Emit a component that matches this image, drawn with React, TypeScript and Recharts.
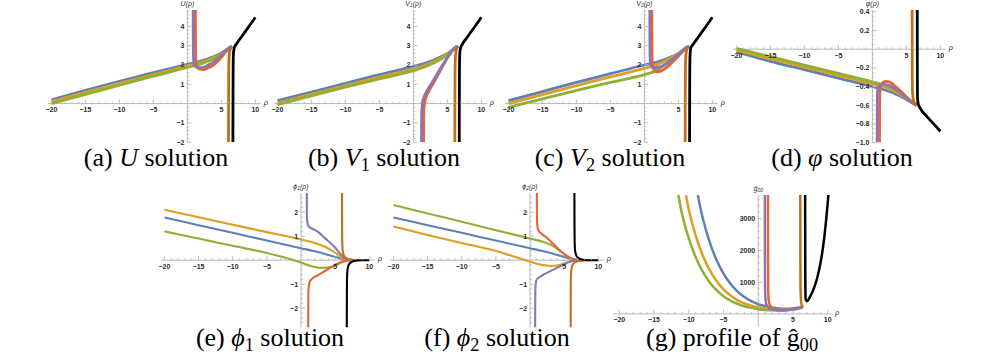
import React from 'react';
import { LineChart, Line, XAxis, YAxis, ReferenceLine, ReferenceDot } from 'recharts';

type P = [number, number];

const COL = {
  blue: '#5E81B5', orange: '#E19C24', green: '#8FB032', red: '#EB6235',
  purple: '#8778B3', brown: '#C56E1A', black: '#000000',
};

// ---------- (a) U ----------
const aBlue: P[] = [[-20,0.2],[-15,0.68],[-10,1.15],[-5,1.6],[0,2.03],[2,2.2],[4,2.45],[5,2.62],[6,2.85],[6.5,2.97]];
const aOrange: P[] = [[-20,0.1],[-15,0.58],[-10,1.05],[-5,1.5],[0,1.95],[2,2.13],[4,2.4],[5,2.58],[6,2.83],[6.5,2.96]];
const aGreen: P[] = [[-20,0.0],[-15,0.48],[-10,0.95],[-5,1.42],[0,1.87],[2,2.06],[4,2.35],[5,2.55],[6,2.8],[6.5,2.95]];
const aRed: P[] = [[1.18,4.85],[1.19,3.5],[1.21,2.6],[1.28,2.15],[1.45,1.9],[1.8,1.78],[2.3,1.76],[3,1.84],[4,2.05],[5,2.4],[5.8,2.75],[6.5,2.97]];
const aPurple: P[] = [[0.85,4.85],[0.86,3.5],[0.88,2.6],[0.95,2.15],[1.1,1.97],[1.5,1.87],[2,1.86],[3,1.98],[4,2.2],[5,2.52],[5.8,2.8],[6.5,2.97]];
const aBrown: P[] = [[6.05,-2],[6.06,0],[6.08,1.5],[6.12,2.3],[6.2,2.65],[6.35,2.85],[6.6,2.98]];
const aBlack: P[] = [[6.7,-2],[6.71,0],[6.73,1.8],[6.78,2.6],[6.9,2.9],[7.2,3.08],[8,3.48],[9,3.97],[10,4.47]];

// ---------- (b) V1 ----------
const bBlue: P[] = [[-20,0.15],[-15,0.6],[-10,1.05],[-5,1.5],[0,1.93],[2,2.12],[4,2.42],[5,2.6],[6,2.85],[6.5,2.97]];
const bOrange: P[] = [[-20,0.03],[-15,0.48],[-10,0.93],[-5,1.37],[0,1.8],[2,2.02],[4,2.35],[5,2.56],[6,2.83],[6.5,2.96]];
const bGreen: P[] = [[-20,-0.05],[-15,0.4],[-10,0.85],[-5,1.28],[0,1.7],[2,1.95],[4,2.3],[5,2.53],[6,2.82],[6.5,2.95]];
const bRed: P[] = [[1.5,-2],[1.51,-0.8],[1.55,-0.3],[1.7,0.12],[2.15,0.55],[2.8,0.97],[3.55,1.45],[4.3,1.93],[4.95,2.33],[5.55,2.65],[6.1,2.9],[6.5,2.97]];
const bPurple: P[] = [[1.2,-2],[1.21,-0.8],[1.25,-0.3],[1.4,0.15],[1.9,0.6],[2.6,1.0],[3.4,1.48],[4.2,1.95],[4.9,2.34],[5.5,2.65],[6.1,2.9],[6.5,2.97]];
const bBrown: P[] = [[6.1,-2],[6.11,0],[6.13,1.5],[6.17,2.3],[6.25,2.65],[6.4,2.86],[6.6,2.98]];
const bBlack: P[] = [[6.75,-2],[6.76,0],[6.78,1.8],[6.83,2.6],[6.95,2.9],[7.2,3.07],[8,3.48],[9,3.97],[10,4.47]];

// ---------- (c) V2 ----------
const cBlue: P[] = [[-20,0.15],[-15,0.62],[-10,1.1],[-5,1.55],[0,2.0],[2,2.17],[4,2.43],[5,2.6],[6,2.85],[6.5,2.97]];
const cOrange: P[] = [[-20,0.0],[-15,0.47],[-10,0.93],[-5,1.38],[0,1.82],[1.5,1.97],[3,2.2],[4,2.38],[5,2.58],[6,2.84],[6.5,2.96]];
const cGreen: P[] = [[-20,-0.2],[-15,0.25],[-10,0.68],[-5,1.1],[0,1.5],[1.5,1.67],[3,2.0],[4,2.27],[5,2.53],[6,2.82],[6.5,2.95]];
const cRed: P[] = [[1.1,4.85],[1.11,3.5],[1.13,2.5],[1.2,2.0],[1.4,1.75],[1.8,1.65],[2.4,1.68],[3.2,1.85],[4,2.1],[5,2.45],[5.8,2.77],[6.5,2.97]];
const cPurple: P[] = [[0.8,4.85],[0.81,3.5],[0.83,2.5],[0.9,2.05],[1.1,1.9],[1.6,1.86],[2.3,1.9],[3.2,2.05],[4,2.25],[5,2.55],[5.8,2.82],[6.5,2.97]];
const cBrown: P[] = [[6.0,-2],[6.01,0],[6.03,1.5],[6.07,2.3],[6.15,2.65],[6.3,2.86],[6.6,2.98]];
const cBlack: P[] = [[6.65,-2],[6.66,0],[6.68,1.8],[6.73,2.6],[6.85,2.9],[7.2,3.08],[8,3.48],[9,3.97],[10,4.47]];

// ---------- (d) varphi ----------
const dBlue: P[] = [[-20,-0.03],[-15,-0.13],[-10,-0.22],[-5,-0.31],[0,-0.4],[2,-0.44],[4,-0.5],[5,-0.54],[6,-0.58],[6.5,-0.6]];
const dOrange: P[] = [[-20,-0.01],[-15,-0.1],[-10,-0.19],[-5,-0.28],[0,-0.37],[2,-0.41],[4,-0.48],[5,-0.53],[6,-0.58],[6.5,-0.6]];
const dGreen: P[] = [[-20,0.01],[-15,-0.08],[-10,-0.17],[-5,-0.26],[0,-0.35],[2,-0.39],[4,-0.46],[5,-0.51],[6,-0.57],[6.5,-0.6]];
const dRed: P[] = [[1.05,-1.0],[1.06,-0.7],[1.08,-0.5],[1.15,-0.42],[1.4,-0.37],[1.9,-0.345],[2.6,-0.355],[3.4,-0.4],[4.3,-0.46],[5.2,-0.53],[6,-0.58],[6.5,-0.6]];
const dPurple: P[] = [[0.7,-1.0],[0.71,-0.7],[0.73,-0.5],[0.8,-0.42],[1.1,-0.39],[1.7,-0.375],[2.5,-0.39],[3.4,-0.43],[4.3,-0.48],[5.2,-0.54],[6,-0.58],[6.5,-0.6]];
const dBrown: P[] = [[5.85,0.42],[5.86,0],[5.87,-0.3],[5.9,-0.45],[6.0,-0.53],[6.2,-0.58],[6.5,-0.6]];
const dBlack: P[] = [[6.6,0.42],[6.61,0],[6.62,-0.4],[6.65,-0.53],[6.75,-0.59],[7,-0.63],[8,-0.72],[9,-0.8],[10,-0.88]];

// ---------- (e) phi1 ----------
const eBlue: P[] = [[-20,1.78],[-15,1.46],[-10,1.14],[-5,0.82],[0,0.5],[2,0.37],[4,0.22],[5.2,0.12],[6.2,0.04],[7.5,0.0]];
const eOrange: P[] = [[-20,2.1],[-15,1.79],[-10,1.48],[-5,1.17],[0,0.86],[2,0.72],[3.5,0.56],[4.8,0.35],[5.8,0.15],[6.5,0.05],[7.5,0.01]];
const eGreen: P[] = [[-20,1.2],[-15,0.9],[-10,0.6],[-5,0.3],[-2,0.08],[0,-0.1],[1.5,-0.25],[3,-0.32],[4.3,-0.28],[5.3,-0.18],[6.2,-0.06],[7,0]];
const eRed: P[] = [[1.05,-2.8],[1.06,-1.8],[1.1,-1.2],[1.25,-0.92],[1.6,-0.78],[2.5,-0.62],[3.5,-0.45],[4.5,-0.28],[5.5,-0.12],[6.5,-0.02],[7.5,0]];
const ePurple: P[] = [[0.85,2.8],[0.86,2.0],[0.9,1.62],[1.1,1.42],[1.6,1.32],[2.4,1.2],[3.5,0.92],[4.9,0.55],[5.8,0.25],[6.5,0.07],[7.5,0.01]];
const eBrown: P[] = [[6.0,2.8],[6.01,1.5],[6.03,0.8],[6.1,0.4],[6.3,0.18],[6.7,0.07],[7.5,0.02],[8.5,0]];
const eBlack: P[] = [[6.7,-2.8],[6.71,-1.5],[6.73,-0.8],[6.8,-0.4],[7,-0.18],[7.4,-0.07],[8.2,-0.01],[9,0],[10,0]];

// ---------- (f) phi2 ----------
const fBlue: P[] = [[-20,1.78],[-15,1.46],[-10,1.14],[-5,0.82],[0,0.5],[2,0.37],[4,0.22],[5.2,0.12],[6.2,0.04],[7.5,0]];
const fOrange: P[] = [[-20,1.4],[-15,1.05],[-10,0.72],[-5,0.38],[-2,0.12],[0,-0.06],[1.5,-0.18],[3,-0.24],[4.3,-0.2],[5.3,-0.1],[6.3,-0.03],[7.5,0]];
const fGreen: P[] = [[-20,2.3],[-15,1.95],[-10,1.6],[-5,1.25],[0,0.9],[2,0.76],[3.2,0.62],[4.3,0.4],[5.3,0.2],[6.3,0.05],[7.5,0]];
const fRed: P[] = [[1.0,2.8],[1.01,2.0],[1.05,1.5],[1.2,1.25],[1.6,1.12],[2.4,0.95],[3.5,0.65],[4.5,0.38],[5.5,0.15],[6.3,0.04],[7.5,0]];
const fPurple: P[] = [[0.75,-2.8],[0.76,-1.8],[0.8,-1.1],[0.95,-0.82],[1.4,-0.7],[2.2,-0.57],[3.5,-0.38],[4.8,-0.2],[5.8,-0.07],[6.5,-0.01],[7.5,0]];
const fBrown: P[] = [[5.95,-2.8],[5.96,-1.5],[5.98,-0.8],[6.05,-0.4],[6.25,-0.18],[6.7,-0.07],[7.5,-0.02],[8.5,0]];
const fBlack: P[] = [[6.5,2.8],[6.51,1.5],[6.53,0.8],[6.6,0.4],[6.8,0.18],[7.2,0.07],[8,0.01],[9,0],[10,0]];

// ---------- (g) g00 ----------
const gBlue: P[] = [[-8.7,3750],[-8,3030],[-7,2270],[-6,1700],[-5,1270],[-4,950],[-3,710],[-2,530],[-1,400],[0,310],[1,250],[2,200],[3,170],[4,160],[5,170],[6,200],[6.4,215]];
const gOrange: P[] = [[-10.4,3750],[-10,3300],[-9,2470],[-8,1850],[-7,1390],[-6,1040],[-5,775],[-4,580],[-3,435],[-2,330],[-1,260],[0,210],[1,170],[2,145],[3,135],[4,135],[5,150],[6,190],[6.4,215]];
const gGreen: P[] = [[-11.5,3750],[-11,3190],[-10,2390],[-9,1790],[-8,1340],[-7,1000],[-6,750],[-5,560],[-4,420],[-3,320],[-2,240],[-1,190],[0,150],[1,125],[2,115],[3,110],[4,115],[5,135],[6,180],[6.4,215]];
const gRed: P[] = [[1.4,3750],[1.41,2000],[1.43,900],[1.5,450],[1.7,260],[2.2,170],[3,130],[4,125],[5,150],[5.8,190],[6.4,215]];
const gPurple: P[] = [[0.95,3750],[0.96,2000],[0.98,900],[1.05,450],[1.25,260],[1.8,160],[2.7,115],[3.7,110],[4.7,135],[5.6,180],[6.4,215]];
const gBrown: P[] = [[6.05,3750],[6.06,2000],[6.08,900],[6.15,450],[6.3,250],[6.5,215]];
const gBlack: P[] = [[6.75,3750],[6.76,2000],[6.78,900],[6.83,450],[7,400],[7.5,560],[8,800],[8.5,1150],[9,1650],[9.5,2400],[10,3500],[10.1,3750]];

// ---------- ticks ----------
const xMajor = [-20, -15, -10, -5, 5, 10];
const xMinor = [-19,-18,-17,-16,-14,-13,-12,-11,-9,-8,-7,-6,-4,-3,-2,-1,1,2,3,4,6,7,8,9];
const uvTicks = [-2, -1, 1, 2, 3, 4];
const uvMinor = [-1.8,-1.6,-1.4,-1.2,-0.8,-0.6,-0.4,-0.2,0.2,0.4,0.6,0.8,1.2,1.4,1.6,1.8,2.2,2.4,2.6,2.8,3.2,3.4,3.6,3.8,4.2,4.4,4.6,4.8];
const dTicks = [0.4, 0.2, -0.2, -0.4, -0.6, -0.8, -1.0];
const dTickLabels = ['0.4', '0.2', '−0.2', '−0.4', '−0.6', '−0.8', '−1.0'];
const dMinor = [0.35,0.3,0.25,0.15,0.1,0.05,-0.05,-0.1,-0.15,-0.25,-0.3,-0.35,-0.45,-0.5,-0.55,-0.65,-0.7,-0.75,-0.85,-0.9,-0.95];
const phiTicks = [-2, -1, 1, 2];
const phiMinor = [-2.6,-2.4,-2.2,-1.8,-1.6,-1.4,-1.2,-0.8,-0.6,-0.4,-0.2,0.2,0.4,0.6,0.8,1.2,1.4,1.6,1.8,2.2,2.4,2.6];
const gTicks = [1000, 2000, 3000];
const gMinor = [200,400,600,800,1200,1400,1600,1800,2200,2400,2600,2800,3200,3400,3600];

const fmt = (v: number) => (v < 0 ? '−' + String(-v) : String(v));

type Series = { data: P[]; color: string };
type Cfg = {
  px: number; py: number; pw: number; ph: number;
  xD: [number, number]; yD: [number, number];
  series: Series[]; sw: number;
  yTicks: number[]; yLabels: string[]; yMinor: number[];
  yLabel: React.ReactNode;
};

const M = { top: 14, right: 18, bottom: 8, left: 20 };
const AX = '#b8b8b8';
const TF = { fontFamily: '"Liberation Sans", Arial, sans-serif', fontSize: 7, fontWeight: 700, fill: '#2b2b2b' };
const SERIF = "'Liberation Serif', 'Times New Roman', Times, 'DejaVu Serif', serif";

const seven = (b: P[], o: P[], g: P[], r: P[], p: P[], br: P[], k: P[]): Series[] => [
  { data: b, color: COL.blue }, { data: o, color: COL.orange }, { data: g, color: COL.green },
  { data: r, color: COL.red }, { data: p, color: COL.purple }, { data: br, color: COL.brown },
  { data: k, color: COL.black },
];

const sub = (base: string, s: string, tail: string) => (
  <>
    <tspan>{base}</tspan>
    <tspan fontSize={5} dy={1.5}>{s}</tspan>
    <tspan dy={-1.5}>{tail}</tspan>
  </>
);

const panels: Cfg[] = [
  { px: 47.6, py: 9.9, pw: 212.8, ph: 132.2, xD: [-20.5, 10.8], yD: [-2, 4.85], sw: 2.8,
    series: seven(aBlue, aOrange, aGreen, aRed, aPurple, aBrown, aBlack),
    yTicks: uvTicks, yLabels: uvTicks.map(fmt), yMinor: uvMinor, yLabel: <tspan>U(ρ)</tspan> },
  { px: 274.1, py: 9.9, pw: 212.8, ph: 132.2, xD: [-20.5, 10.8], yD: [-2, 4.85], sw: 2.8,
    series: seven(bBlue, bOrange, bGreen, bRed, bPurple, bBrown, bBlack),
    yTicks: uvTicks, yLabels: uvTicks.map(fmt), yMinor: uvMinor, yLabel: sub('V', '1', '(ρ)') },
  { px: 504.6, py: 9.9, pw: 212.8, ph: 132.2, xD: [-20.5, 10.8], yD: [-2, 4.85], sw: 2.8,
    series: seven(cBlue, cOrange, cGreen, cRed, cPurple, cBrown, cBlack),
    yTicks: uvTicks, yLabels: uvTicks.map(fmt), yMinor: uvMinor, yLabel: sub('V', '2', '(ρ)') },
  { px: 732.6, py: 10.1, pw: 212.8, ph: 132.5, xD: [-20.5, 10.8], yD: [-1.0, 0.42], sw: 2.8,
    series: seven(dBlue, dOrange, dGreen, dRed, dPurple, dBrown, dBlack),
    yTicks: dTicks, yLabels: dTickLabels, yMinor: dMinor, yLabel: <tspan>φ(ρ)</tspan> },
  { px: 161, py: 192.8, pw: 213.8, ph: 134.4, xD: [-20.5, 10.8], yD: [-2.8, 2.8], sw: 2.1,
    series: seven(eBlue, eOrange, eGreen, eRed, ePurple, eBrown, eBlack),
    yTicks: phiTicks, yLabels: phiTicks.map(fmt), yMinor: phiMinor, yLabel: sub('ϕ', '1', '(ρ)') },
  { px: 390, py: 192.8, pw: 213.8, ph: 134.4, xD: [-20.5, 10.8], yD: [-2.8, 2.8], sw: 2.1,
    series: seven(fBlue, fOrange, fGreen, fRed, fPurple, fBrown, fBlack),
    yTicks: phiTicks, yLabels: phiTicks.map(fmt), yMinor: phiMinor, yLabel: sub('ϕ', '2', '(ρ)') },
  { px: 612.7, py: 195.1, pw: 218.9, ph: 131.6, xD: [-20.9, 10.6], yD: [-400, 3750], sw: 2.5,
    series: seven(gBlue, gOrange, gGreen, gRed, gPurple, gBrown, gBlack),
    yTicks: gTicks, yLabels: gTicks.map(String), yMinor: gMinor, yLabel: sub('ĝ', '00', '') },
];

const toXY = (arr: P[]) => arr.map(([x, y]) => ({ x, y }));

function Panel({ cfg }: { cfg: Cfg }) {
  const { px, py, pw, ph, xD, yD, series, sw, yTicks, yLabels, yMinor, yLabel } = cfg;
  return (
    <div style={{ position: 'absolute', left: px - M.left, top: py - M.top }}>
      <LineChart width={pw + M.left + M.right} height={ph + M.top + M.bottom} margin={M}>
        <XAxis type="number" dataKey="x" domain={xD} allowDataOverflow hide />
        <YAxis type="number" domain={yD} allowDataOverflow hide />
        <ReferenceLine y={0} stroke={AX} strokeWidth={1} ifOverflow="visible" />
        <ReferenceLine x={0} stroke={AX} strokeWidth={1} ifOverflow="visible" />
        {xMinor.map((t) => (
          <ReferenceDot key={'xm' + t} x={t} y={0} r={1} ifOverflow="visible"
            shape={(p: any) => <line x1={p.cx} x2={p.cx} y1={p.cy} y2={p.cy - 2} stroke={AX} strokeWidth={0.8} />} />
        ))}
        {xMajor.map((t) => (
          <ReferenceDot key={'xM' + t} x={t} y={0} r={1} ifOverflow="visible"
            shape={(p: any) => (
              <g>
                <line x1={p.cx} x2={p.cx} y1={p.cy} y2={p.cy - 4} stroke={AX} strokeWidth={0.9} />
                <text x={p.cx} y={p.cy + 8.5} textAnchor="middle" {...TF}>{fmt(t)}</text>
              </g>
            )} />
        ))}
        {yMinor.map((t) => (
          <ReferenceDot key={'ym' + t} x={0} y={t} r={1} ifOverflow="visible"
            shape={(p: any) => <line x1={p.cx} x2={p.cx + 2} y1={p.cy} y2={p.cy} stroke={AX} strokeWidth={0.8} />} />
        ))}
        {yTicks.map((t, i) => (
          <ReferenceDot key={'yM' + t} x={0} y={t} r={1} ifOverflow="visible"
            shape={(p: any) => (
              <g>
                <line x1={p.cx} x2={p.cx + 4} y1={p.cy} y2={p.cy} stroke={AX} strokeWidth={0.9} />
                <text x={p.cx - 3} y={p.cy + 2.5} textAnchor="end" {...TF}>{yLabels[i]}</text>
              </g>
            )} />
        ))}
        <ReferenceDot x={0} y={yD[1]} r={1} ifOverflow="visible"
          shape={(p: any) => (
            <text x={p.cx} y={p.cy - 4} textAnchor="middle" {...TF} fontWeight={400} fontSize={7} fontStyle="italic">{yLabel}</text>
          )} />
        <ReferenceDot x={xD[1]} y={0} r={1} ifOverflow="visible"
          shape={(p: any) => (
            <text x={p.cx + 3} y={p.cy + 1} {...TF} fontWeight={400} fontSize={7.5} fontStyle="italic">ρ</text>
          )} />
        {series.map((s, i) => (
          <Line key={i} data={toXY(s.data)} dataKey="y" type="monotone" stroke={s.color}
            strokeWidth={sw} dot={false} activeDot={false} isAnimationActive={false} />
        ))}
      </LineChart>
    </div>
  );
}

const SUB: React.CSSProperties = { fontSize: '0.7em', position: 'relative', top: '0.25em', fontStyle: 'normal' };

const captions: { cx: number; base: number; node: React.ReactNode }[] = [
  { cx: 156, base: 166, node: <>(a) <i>U</i> solution</> },
  { cx: 384, base: 166, node: <>(b) <i>V</i><span style={SUB}>1</span> solution</> },
  { cx: 610, base: 166, node: <>(c) <i>V</i><span style={SUB}>2</span> solution</> },
  { cx: 842, base: 166, node: <>(d) <i>φ</i> solution</> },
  { cx: 270, base: 346, node: <>(e) <i>ϕ</i><span style={SUB}>1</span> solution</> },
  { cx: 497, base: 346, node: <>(f) <i>ϕ</i><span style={SUB}>2</span> solution</> },
  { cx: 732, base: 346, node: <>(g) profile of ĝ<span style={SUB}>00</span></> },
];

export default function App() {
  return (
    <div style={{ position: 'fixed', left: 0, top: 0, width: 996, height: 354, background: '#fff', overflow: 'hidden' }}>
      {panels.map((c, i) => <Panel key={i} cfg={c} />)}
      {captions.map((c, i) => (
        <div key={'c' + i} style={{
          position: 'absolute', left: c.cx - 150, width: 300, top: c.base - 20, height: 24,
          textAlign: 'center', fontFamily: SERIF,
          fontSize: 26, lineHeight: '24px', color: '#000', whiteSpace: 'nowrap',
        }}>{c.node}</div>
      ))}
    </div>
  );
}
